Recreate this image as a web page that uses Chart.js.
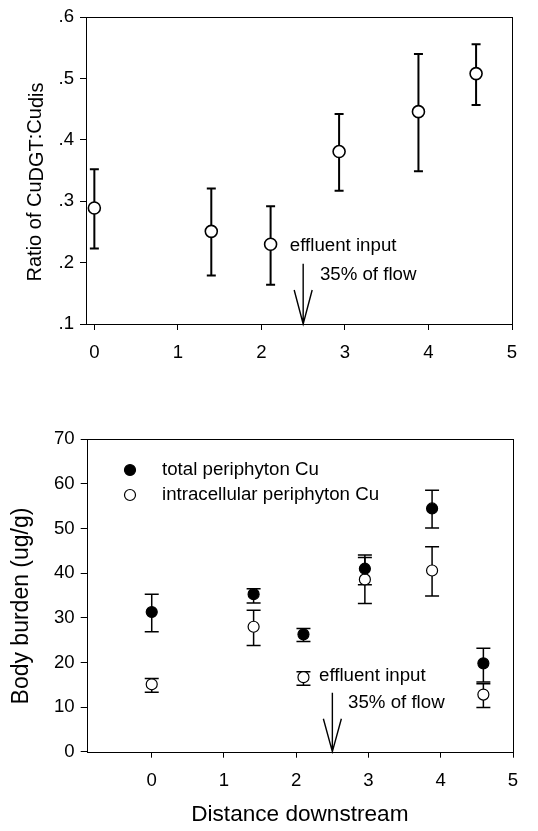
<!DOCTYPE html>
<html>
<head>
<meta charset="utf-8">
<script src="https://cdn.jsdelivr.net/npm/chart.js@4/dist/chart.umd.min.js"></script>
<style>
html,body{margin:0;padding:0;background:#fff;}
#wrap{position:relative;width:538px;height:831px;overflow:hidden;}
#c1{position:absolute;left:0;top:0;}
#c2{position:absolute;left:0;top:380px;}
</style>
</head>
<body>
<div id="wrap">
<canvas id="c1" width="538" height="380"></canvas>
<canvas id="c2" width="538" height="451"></canvas>
</div>
<script>
// ---------- data: top panel ----------
const distTop   = [0, 1.40, 2.11, 2.93, 3.88, 4.57];
const ratioMean = [0.289, 0.251, 0.230, 0.381, 0.446, 0.508];
const ratioHigh = [0.352, 0.321, 0.292, 0.442, 0.540, 0.556];
const ratioLow  = [0.223, 0.179, 0.164, 0.317, 0.349, 0.457];
const topXTicks = [0, 1, 2, 3, 4, 5];
const topYTicks = [0.1, 0.2, 0.3, 0.4, 0.5, 0.6];
const topYTickLabels = ['.1', '.2', '.3', '.4', '.5', '.6'];

// ---------- data: bottom panel ----------
const distBottom = [0, 1.41, 2.10, 2.95, 3.88, 4.59];
const totalMean  = [31.3, 35.3, 26.3, 41.0, 54.5, 19.8];
const totalHigh  = [35.3, 36.5, 27.6, 44.1, 58.6, 23.2];
const totalLow   = [26.9, 33.3, 24.7, 37.4, 50.1, 15.6];
const intraMean  = [15.1, 28.0, 16.7, 38.6, 40.6, 12.8];
const intraHigh  = [16.4, 31.7, 17.9, 43.5, 45.9, 15.2];
const intraLow   = [13.3, 23.8, 14.9, 33.2, 34.9, 9.9];
const bottomXTicks = [0, 1, 2, 3, 4, 5];
const bottomYTicks = [0, 10, 20, 30, 40, 50, 60, 70];

// ---------- annotations ----------
const effluentX = 2.5;
const topArrowFrom = 0.198;
const bottomArrowFrom = 13.2;
const topNotes = [
  {text: 'effluent input', x: 2.34, y: 0.228},
  {text: '35% of flow', x: 2.70, y: 0.180}
];
const bottomNotes = [
  {text: 'effluent input', x: 2.315, y: 17.0},
  {text: '35% of flow', x: 2.717, y: 10.9}
];

const FONT = '"Liberation Sans", Arial, Helvetica, sans-serif';
const TICK_SIZE = 18.6;

const pts = (xs, ys) => xs.map((x, i) => ({x: x, y: ys[i]}));

const errorBars = {
  id: 'errorBars',
  beforeDatasetsDraw(chart) {
    const {ctx, scales: {x, y}} = chart;
    chart.data.datasets.forEach(ds => {
      if (!ds.errHigh) return;
      ctx.save();
      ctx.strokeStyle = '#000';
      ctx.lineWidth = ds.errWidth;
      ds.data.forEach((p, i) => {
        const px = x.getPixelForValue(p.x);
        const yh = y.getPixelForValue(ds.errHigh[i]);
        const yl = y.getPixelForValue(ds.errLow[i]);
        ctx.beginPath();
        ctx.moveTo(px, yh); ctx.lineTo(px, yl);
        ctx.moveTo(px - ds.capHalf, yh); ctx.lineTo(px + ds.capHalf, yh);
        ctx.moveTo(px - ds.capHalf, yl); ctx.lineTo(px + ds.capHalf, yl);
        ctx.stroke();
      });
      ctx.restore();
    });
  }
};

const decor = {
  id: 'decor',
  afterDatasetsDraw(chart, args, opts) {
    const {ctx, chartArea: a, scales: {x, y}} = chart;
    ctx.save();
    // frame
    ctx.strokeStyle = '#000';
    ctx.lineWidth = 1;
    ctx.strokeRect(Math.round(a.left) + 0.5, Math.round(a.top) + 0.5,
                   Math.round(a.right) - Math.round(a.left), Math.round(a.bottom) - Math.round(a.top));
    // arrow
    const ax = x.getPixelForValue(opts.arrowX);
    const y0 = y.getPixelForValue(opts.arrowFrom);
    const y1 = y.getPixelForValue(y.min);
    ctx.lineWidth = 1.4;
    ctx.beginPath();
    ctx.moveTo(ax, y0); ctx.lineTo(ax, y1);
    ctx.moveTo(ax - opts.headHalf, y1 - opts.headLen); ctx.lineTo(ax, y1);
    ctx.lineTo(ax + opts.headHalf, y1 - opts.headLen);
    ctx.stroke();
    // notes
    ctx.fillStyle = '#000';
    ctx.font = opts.fontSize + 'px ' + FONT;
    ctx.textAlign = 'left';
    ctx.textBaseline = 'middle';
    opts.notes.forEach(n => {
      ctx.fillText(n.text, x.getPixelForValue(n.x), y.getPixelForValue(n.y));
    });
    // legend
    if (opts.legend) {
      chart.data.datasets.forEach((ds, i) => {
        const lx = a.left + opts.legend.dx;
        const ly = a.top + opts.legend.dy + i * opts.legend.gap;
        ctx.beginPath();
        ctx.arc(lx, ly, ds.pointRadius, 0, Math.PI * 2);
        ctx.fillStyle = ds.backgroundColor;
        ctx.fill();
        ctx.lineWidth = ds.borderWidth;
        ctx.strokeStyle = ds.borderColor;
        ctx.stroke();
        ctx.fillStyle = '#000';
        ctx.fillText(ds.label, lx + opts.legend.textDx, ly);
      });
    }
    // y title
    const t = opts.yTitle;
    ctx.translate(t.x, t.y);
    ctx.rotate(-Math.PI / 2);
    ctx.font = t.size + 'px ' + FONT;
    ctx.fillStyle = '#000';
    ctx.textBaseline = 'middle';
    let total = 0;
    t.parts.forEach(p => { total += ctx.measureText(p[0]).width; });
    let cx = -total / 2;
    t.parts.forEach(p => {
      ctx.fillText(p[0], cx, p[1]);
      cx += ctx.measureText(p[0]).width;
    });
    ctx.restore();
  }
};

function axisCommon(tickVals, labels, fit) {
  return {
    type: 'linear',
    afterBuildTicks(scale) { scale.ticks = tickVals.map(v => ({value: v})); },
    afterFit: fit,
    grid: {display: true, drawOnChartArea: false, drawTicks: true, tickLength: 6, color: '#000', lineWidth: 1},
    border: {display: false},
    ticks: {
      color: '#000',
      font: {family: FONT, size: TICK_SIZE},
      autoSkip: false,
      maxRotation: 0,
      callback(v) {
        const i = tickVals.indexOf(v);
        return labels ? labels[i] : String(v);
      }
    }
  };
}

// ---------- top chart ----------
const topX = axisCommon(topXTicks, null, s => { s.height = 56; });
topX.min = -0.1; topX.max = 5; topX.position = 'bottom';
topX.ticks.padding = 12;
const topY = axisCommon(topYTicks, topYTickLabels, s => { s.width = 86; });
topY.min = 0.1; topY.max = 0.6; topY.position = 'left';
topY.ticks.padding = 6;

new Chart(document.getElementById('c1'), {
  type: 'scatter',
  data: {
    datasets: [{
      label: 'Ratio of CuDGT:Cudis',
      data: pts(distTop, ratioMean),
      errHigh: ratioHigh, errLow: ratioLow, capHalf: 4.5, errWidth: 2,
      pointRadius: 6, pointHoverRadius: 6,
      backgroundColor: '#fff', borderColor: '#000', borderWidth: 1.6,
      showLine: false
    }]
  },
  options: {
    responsive: false, animation: false,
    layout: {padding: {left: 0, top: 16, right: 26, bottom: 0}},
    plugins: {
      legend: {display: false}, tooltip: {enabled: false},
      decor: {
        arrowX: effluentX, arrowFrom: topArrowFrom, headHalf: 9, headLen: 34,
        notes: topNotes, fontSize: 18.7,
        yTitle: {x: 35, y: 182, size: 20,
          parts: [['Ratio of Cu', 0], ['DGT', 2], [':Cu', 0], ['dis', 2]]}
      }
    },
    scales: {x: topX, y: topY}
  },
  plugins: [errorBars, decor]
});

// ---------- bottom chart ----------
const botX = axisCommon(bottomXTicks, null, s => { s.height = 79.3; });
botX.min = -0.9; botX.max = 5; botX.position = 'bottom';
botX.ticks.padding = 12;
botX.title = {display: true, text: 'Distance downstream', color: '#000',
  font: {family: FONT, size: 22.6}, padding: {top: 0, bottom: 3}};
const botY = axisCommon(bottomYTicks, null, s => { s.width = 86.7; });
botY.min = 0; botY.max = 70; botY.position = 'left';
botY.ticks.padding = 6;

new Chart(document.getElementById('c2'), {
  type: 'scatter',
  data: {
    datasets: [{
      label: 'total periphyton Cu',
      data: pts(distBottom, totalMean),
      errHigh: totalHigh, errLow: totalLow, capHalf: 7, errWidth: 1.5,
      pointRadius: 5.5, pointHoverRadius: 5.5,
      backgroundColor: '#000', borderColor: '#000', borderWidth: 1.2,
      showLine: false
    }, {
      label: 'intracellular periphyton Cu',
      data: pts(distBottom, intraMean),
      errHigh: intraHigh, errLow: intraLow, capHalf: 7, errWidth: 1.5,
      pointRadius: 5.5, pointHoverRadius: 5.5,
      backgroundColor: '#fff', borderColor: '#000', borderWidth: 1.2,
      showLine: false
    }]
  },
  options: {
    responsive: false, animation: false,
    layout: {padding: {left: 0, top: 59.3, right: 25, bottom: 0}},
    plugins: {
      legend: {display: false}, tooltip: {enabled: false},
      decor: {
        arrowX: effluentX, arrowFrom: bottomArrowFrom, headHalf: 9, headLen: 33,
        notes: bottomNotes, fontSize: 18.7,
        legend: {dx: 43.3, dy: 30.7, gap: 25, textDx: 32},
        yTitle: {x: 22, y: 226, size: 23, parts: [['Body burden (ug/g)', 0]]}
      }
    },
    scales: {x: botX, y: botY}
  },
  plugins: [errorBars, decor]
});
</script>
</body>
</html>
